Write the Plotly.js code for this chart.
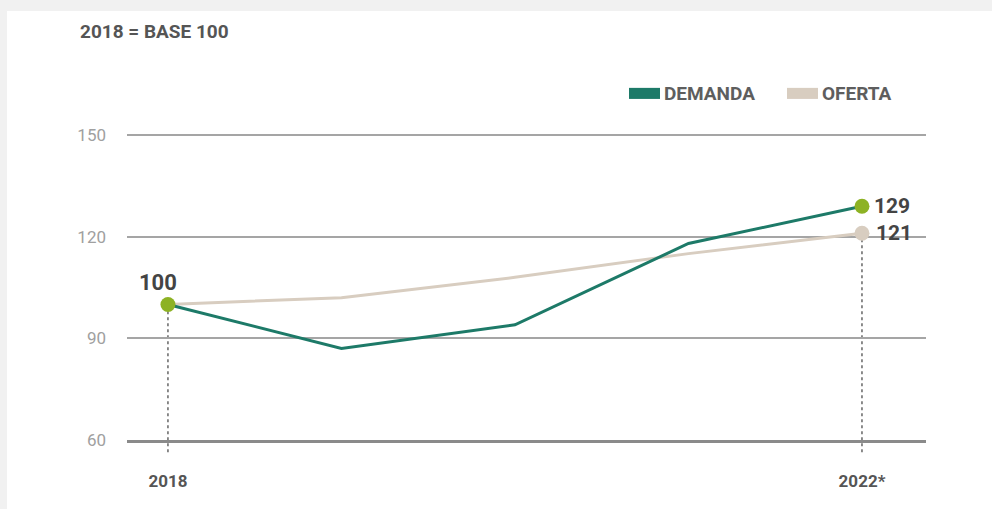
<!DOCTYPE html>
<html>
<head>
<meta charset="utf-8">
<script src="https://cdn.plot.ly/plotly-3.0.1.min.js"></script>
<style>
  html, body { margin: 0; padding: 0; background: #f1f1f1; width: 992px; height: 509px; overflow: hidden; }
  #chart { position: absolute; left: 7px; top: 11px; width: 985px; height: 498px; background: #ffffff; }
</style>
</head>
<body>
<div id="chart"></div>
<script>
// ---- Data ----
const years = [2018, 2019, 2020, 2021, 2022];
const demanda = [100, 87, 94, 118, 129];
const oferta = [100, 102, 108, 115, 121];
const xTickVals = [2018, 2022];
const xTickText = ['2018', '2022*'];
const yTickVals = [60, 90, 120, 150];
const seriesNames = ['DEMANDA', 'OFERTA'];
const subtitle = '2018 = BASE 100';

// ---- Styling ----
const cDem = '#1d7a68';
const cOf = '#d8cdc0';
const cGreen = '#8db224';
const FONT = 'Roboto, "Noto Sans", sans-serif';
const xRange = [2017.764, 2022.369];
const yRange = [60, 150.6];

const last = years.length - 1;
const endIdx = [0, last];

const traces = [
  {
    x: years, y: oferta, type: 'scatter', mode: 'lines', name: seriesNames[1],
    line: { color: cOf, width: 3 }, showlegend: false, hoverinfo: 'skip'
  },
  {
    x: years, y: demanda, type: 'scatter', mode: 'lines', name: seriesNames[0],
    line: { color: cDem, width: 3 }, showlegend: false, hoverinfo: 'skip'
  },
  {
    x: [years[last]], y: [oferta[last]], type: 'scatter', mode: 'markers',
    marker: { color: cOf, size: 15, opacity: 1, line: { width: 0 } },
    cliponaxis: false, showlegend: false, hoverinfo: 'skip'
  },
  {
    x: endIdx.map(i => years[i]), y: endIdx.map(i => demanda[i]), type: 'scatter', mode: 'markers',
    marker: { color: cGreen, size: 15, opacity: 1, line: { width: 0 } },
    cliponaxis: false, showlegend: false, hoverinfo: 'skip'
  }
];

const toPaperX = v => (v - xRange[0]) / (xRange[1] - xRange[0]);
const toPaperY = v => (v - yRange[0]) / (yRange[1] - yRange[0]);

const shapes = [
  { type: 'line', xref: 'paper', yref: 'paper', x0: toPaperX(years[0]), x1: toPaperX(years[0]),
    y0: -0.04, y1: toPaperY(demanda[0]), line: { color: '#666', width: 1.5, dash: 'dot' }, layer: 'below' },
  { type: 'line', xref: 'paper', yref: 'paper', x0: toPaperX(years[last]), x1: toPaperX(years[last]),
    y0: -0.04, y1: toPaperY(oferta[last]), line: { color: '#666', width: 1.5, dash: 'dot' }, layer: 'below' },
  { type: 'rect', xref: 'paper', yref: 'paper', x0: 0.6283, x1: 0.6671, y0: 1.111, y1: 1.147,
    fillcolor: cDem, line: { width: 0 } },
  { type: 'rect', xref: 'paper', yref: 'paper', x0: 0.826, x1: 0.8648, y0: 1.111, y1: 1.147,
    fillcolor: cOf, line: { width: 0 } }
];

const annotations = [
  { xref: 'paper', yref: 'paper', x: -0.0613, y: 1.33, xanchor: 'left', yanchor: 'middle',
    text: subtitle, showarrow: false, font: { family: FONT, size: 19, color: '#555', weight: 'bold' } },
  { xref: 'paper', yref: 'paper', x: 0.6696, y: 1.1295, xanchor: 'left', yanchor: 'middle',
    text: seriesNames[0], showarrow: false, font: { family: FONT, size: 19, color: '#5e5e5e', weight: 'bold' } },
  { xref: 'paper', yref: 'paper', x: 0.8672, y: 1.1295, xanchor: 'left', yanchor: 'middle',
    text: seriesNames[1], showarrow: false, font: { family: FONT, size: 19, color: '#5e5e5e', weight: 'bold' } },
  { x: years[0], y: demanda[0], xanchor: 'center', yanchor: 'bottom', xshift: -10, yshift: 7,
    text: String(demanda[0]), showarrow: false, font: { family: FONT, size: 22, color: '#444', weight: 'bold' } },
  { x: years[last], y: demanda[last], xanchor: 'left', yanchor: 'middle', xshift: 10,
    text: String(demanda[last]), showarrow: false, font: { family: FONT, size: 21, color: '#444', weight: 'bold' } },
  { x: years[last], y: oferta[last], xanchor: 'left', yanchor: 'middle', xshift: 12,
    text: String(oferta[last]), showarrow: false, font: { family: FONT, size: 21, color: '#444', weight: 'bold' } }
];

const layout = {
  width: 985, height: 498,
  margin: { l: 120, r: 66, t: 122, b: 69 },
  paper_bgcolor: '#ffffff', plot_bgcolor: '#ffffff',
  showlegend: false,
  xaxis: {
    range: xRange, tickvals: xTickVals, ticktext: xTickText,
    showgrid: false, zeroline: false, showline: true, linecolor: '#8a8a8a', linewidth: 3,
    ticks: '', ticklabelstandoff: 24,
    tickfont: { family: FONT, size: 17, color: '#555', weight: 'bold' }, fixedrange: true
  },
  yaxis: {
    range: yRange, tickvals: yTickVals, showgrid: true, gridcolor: '#a5a5a5', gridwidth: 2,
    zeroline: false, showline: false, ticks: '', ticklabelstandoff: 20,
    tickfont: { family: FONT, size: 17, color: '#a0a0a0' }, fixedrange: true
  },
  shapes: shapes,
  annotations: annotations
};

Plotly.newPlot('chart', traces, layout, { displayModeBar: false, staticPlot: true });
</script>
</body>
</html>
